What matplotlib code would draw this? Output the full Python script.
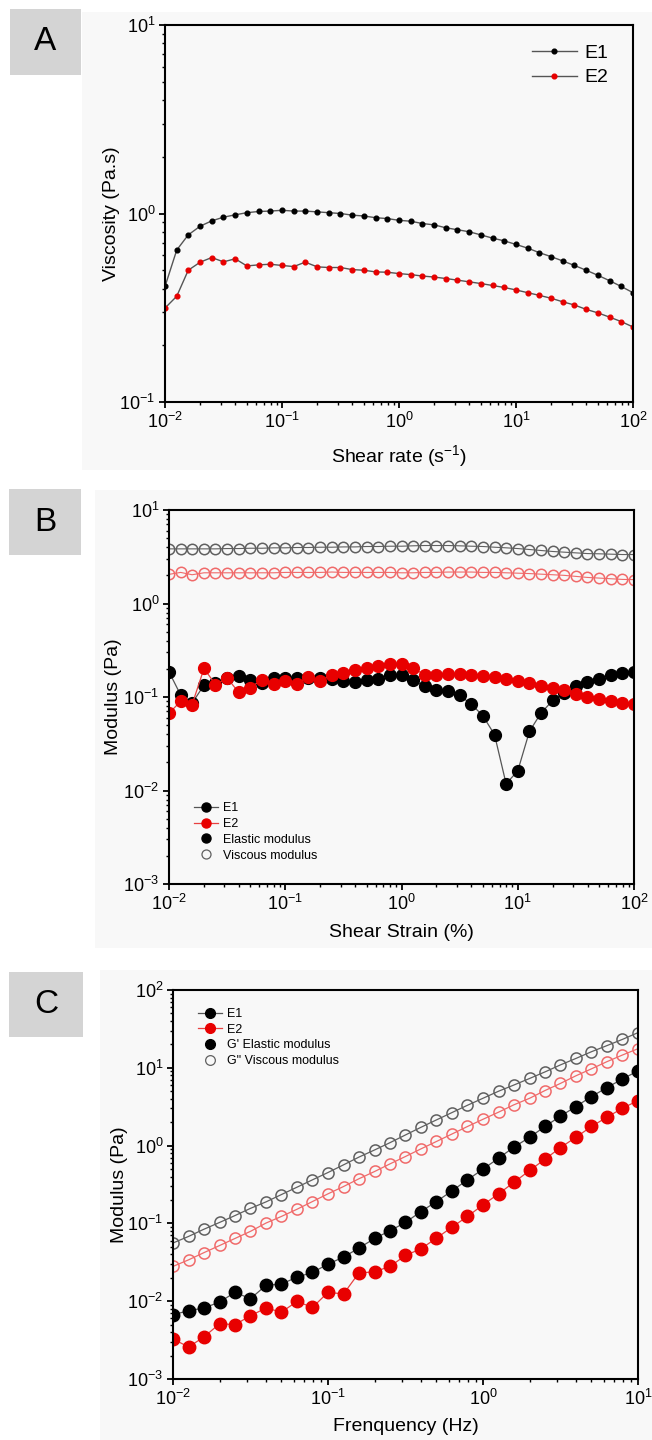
import matplotlib
matplotlib.use("Agg")
import matplotlib.pyplot as plt
from matplotlib.lines import Line2D
from matplotlib.patches import Rectangle
from matplotlib.ticker import LogLocator, NullFormatter

plt.rcParams["font.family"] = ["Liberation Sans", "DejaVu Sans"]
plt.rcParams["mathtext.fontset"] = "custom"
plt.rcParams["mathtext.rm"] = "Liberation Sans"
plt.rcParams["mathtext.it"] = "Liberation Sans:italic"
plt.rcParams["axes.unicode_minus"] = False

# ---- panel A: viscosity vs shear rate ----
shear_rate = [0.01, 0.0126, 0.0158, 0.02, 0.0251, 0.0316, 0.0398, 0.0501, 0.0631, 0.0794,
              0.1, 0.126, 0.158, 0.2, 0.251, 0.316, 0.398, 0.501, 0.631, 0.794,
              1.0, 1.26, 1.58, 2.0, 2.51, 3.16, 3.98, 5.01, 6.31, 7.94,
              10.0, 12.6, 15.8, 20.0, 25.1, 31.6, 39.8, 50.1, 63.1, 79.4, 100.0]
visc_e1 = [0.41, 0.64, 0.77, 0.857, 0.914, 0.956, 0.984, 1.01, 1.025, 1.03,
           1.04, 1.03, 1.03, 1.02, 1.01, 1.0, 0.98, 0.97, 0.95, 0.94,
           0.92, 0.91, 0.885, 0.87, 0.84, 0.82, 0.80, 0.77, 0.74, 0.716,
           0.685, 0.655, 0.62, 0.59, 0.56, 0.53, 0.50, 0.47, 0.44, 0.41, 0.38]
visc_e2 = [0.315, 0.364, 0.50, 0.552, 0.584, 0.554, 0.575, 0.527, 0.534, 0.538,
           0.53, 0.523, 0.552, 0.521, 0.517, 0.517, 0.504, 0.50, 0.49, 0.488,
           0.48, 0.474, 0.466, 0.46, 0.452, 0.443, 0.434, 0.425, 0.415, 0.405,
           0.393, 0.38, 0.368, 0.355, 0.34, 0.327, 0.31, 0.297, 0.282, 0.267, 0.25]

# ---- panel B: modulus vs shear strain ----
strain = [0.01, 0.0126, 0.0158, 0.02, 0.0251, 0.0316, 0.0398, 0.0501, 0.0631, 0.0794,
          0.1, 0.126, 0.158, 0.2, 0.251, 0.316, 0.398, 0.501, 0.631, 0.794,
          1.0, 1.26, 1.58, 2.0, 2.51, 3.16, 3.98, 5.01, 6.31, 7.94,
          10.0, 12.6, 15.8, 20.0, 25.1, 31.6, 39.8, 50.1, 63.1, 79.4, 100.0]
elastic_e1_b = [0.186, 0.105, 0.086, 0.134, 0.14, 0.16, 0.167, 0.153, 0.14, 0.16,
                0.16, 0.158, 0.158, 0.158, 0.155, 0.15, 0.145, 0.152, 0.155, 0.174,
                0.174, 0.152, 0.13, 0.12, 0.116, 0.104, 0.084, 0.063, 0.0396, 0.0118,
                0.0162, 0.0428, 0.067, 0.092, 0.11, 0.13, 0.145, 0.157, 0.17, 0.18, 0.184]
elastic_e2_b = [0.067, 0.09, 0.083, 0.202, 0.136, 0.16, 0.112, 0.126, 0.153, 0.139,
                0.147, 0.139, 0.164, 0.147, 0.174, 0.18, 0.193, 0.204, 0.215, 0.223,
                0.226, 0.202, 0.174, 0.174, 0.178, 0.177, 0.174, 0.168, 0.162, 0.156,
                0.147, 0.14, 0.13, 0.124, 0.118, 0.108, 0.1, 0.095, 0.09, 0.086, 0.0835]
viscous_e1_b = [3.84, 3.84, 3.84, 3.84, 3.84, 3.87, 3.87, 3.90, 3.90, 3.94,
                3.94, 3.97, 3.97, 4.00, 4.00, 4.03, 4.03, 4.07, 4.07, 4.10,
                4.10, 4.14, 4.17, 4.17, 4.17, 4.14, 4.10, 4.07, 4.00, 3.94,
                3.87, 3.78, 3.69, 3.60, 3.54, 3.48, 3.42, 3.40, 3.37, 3.34, 3.34]
viscous_e2_b = [2.05, 2.15, 2.03, 2.13, 2.13, 2.13, 2.13, 2.13, 2.13, 2.13,
                2.15, 2.15, 2.15, 2.15, 2.17, 2.15, 2.15, 2.15, 2.15, 2.15,
                2.13, 2.13, 2.15, 2.15, 2.17, 2.17, 2.17, 2.15, 2.15, 2.13,
                2.11, 2.09, 2.06, 2.03, 2.00, 1.95, 1.90, 1.87, 1.84, 1.81, 1.80]

# ---- panel C: modulus vs frequency ----
freq = [0.01, 0.0126, 0.0158, 0.02, 0.0251, 0.0316, 0.0398, 0.0501, 0.0631, 0.0794,
        0.1, 0.126, 0.158, 0.2, 0.251, 0.316, 0.398, 0.501, 0.631, 0.794,
        1.0, 1.26, 1.58, 2.0, 2.51, 3.16, 3.98, 5.01, 6.31, 7.94, 10.0]
elastic_e1_c = [0.0067, 0.00755, 0.00817, 0.00975, 0.013, 0.01076, 0.016, 0.0166, 0.0204, 0.0234,
                0.030, 0.0369, 0.0481, 0.0641, 0.0804, 0.103, 0.142, 0.191, 0.262, 0.363,
                0.498, 0.689, 0.953, 1.28, 1.76, 2.39, 3.18, 4.27, 5.57, 7.19, 9.12]
elastic_e2_c = [0.00327, 0.00258, 0.00346, 0.00514, 0.00499, 0.0065, 0.00817, 0.00724, 0.00993, 0.00832,
                0.0130, 0.0124, 0.0230, 0.0239, 0.0280, 0.0387, 0.0472, 0.0647, 0.0895, 0.123,
                0.173, 0.240, 0.336, 0.479, 0.668, 0.944, 1.28, 1.76, 2.32, 3.02, 3.79]
viscous_e1_c = [0.056, 0.068, 0.084, 0.103, 0.126, 0.156, 0.189, 0.235, 0.292, 0.363,
                0.451, 0.566, 0.71, 0.88, 1.09, 1.37, 1.72, 2.14, 2.66, 3.30,
                4.06, 5.0, 6.0, 7.3, 8.85, 10.9, 13.2, 16.1, 19.3, 23.2, 28.3]
viscous_e2_c = [0.028, 0.034, 0.042, 0.052, 0.064, 0.079, 0.101, 0.123, 0.152, 0.191,
                0.24, 0.298, 0.374, 0.465, 0.582, 0.724, 0.908, 1.13, 1.41, 1.76,
                2.18, 2.69, 3.34, 4.06, 5.1, 6.3, 7.9, 9.7, 12.0, 14.6, 17.6]

BLACK = "#000000"
RED = "#e80000"
GRAY_LINE = "#555555"
RED_LINE = "#e84040"
OPEN_GRAY = "#606060"
OPEN_RED = "#f06a6a"
PANEL_BG = "#f8f8f8"

W, H = 652, 1440
fig = plt.figure(figsize=(W / 100, H / 100), dpi=100)
fig.patch.set_facecolor("white")


def px_axes(left, top, right, bottom):
    return [left / W, 1 - bottom / H, (right - left) / W, (bottom - top) / H]


def style_axes(ax, xlim, ylim, xlabel, ylabel, xlab_y, ylab_x):
    ax.set_xscale("log")
    ax.set_yscale("log")
    ax.set_xlim(*xlim)
    ax.set_ylim(*ylim)
    ax.set_facecolor(PANEL_BG)
    for s in ax.spines.values():
        s.set_linewidth(1.5)
    ax.xaxis.set_major_locator(LogLocator(base=10, numticks=20))
    ax.yaxis.set_major_locator(LogLocator(base=10, numticks=20))
    ax.xaxis.set_minor_locator(LogLocator(base=10, subs=range(2, 10), numticks=20))
    ax.yaxis.set_minor_locator(LogLocator(base=10, subs=range(2, 10), numticks=20))
    ax.xaxis.set_minor_formatter(NullFormatter())
    ax.yaxis.set_minor_formatter(NullFormatter())
    ax.tick_params(which="major", direction="out", length=4, width=1.3,
                   labelsize=13, pad=3, top=False, right=False)
    ax.tick_params(which="minor", direction="out", length=2.2, width=1.0,
                   top=False, right=False)
    ax.set_xlabel(xlabel, fontsize=14)
    ax.set_ylabel(ylabel, fontsize=14)
    ax.xaxis.set_label_coords(0.5, xlab_y)
    ax.yaxis.set_label_coords(ylab_x, 0.5)


def panel_tag(letter, x0, y0, x1, y1, bg_left, bg_top, bg_bottom):
    fig.patches.append(Rectangle((bg_left / W, 1 - bg_bottom / H), (W - bg_left) / W,
                                 (bg_bottom - bg_top) / H, transform=fig.transFigure,
                                 facecolor=PANEL_BG, edgecolor="none", zorder=-10))
    fig.patches.append(Rectangle((x0 / W, 1 - y1 / H), (x1 - x0) / W, (y1 - y0) / H,
                                 transform=fig.transFigure, facecolor="#d4d4d4",
                                 edgecolor="none", zorder=-5))
    fig.text((x0 + x1) / 2 / W, 1 - (y0 + y1) / 2 / H, letter, fontsize=24,
             ha="center", va="center")


panel_tag("A", 10, 9, 81, 75, 82, 12, 470)
panel_tag("B", 9, 489, 81, 555, 95, 490, 948)
panel_tag("C", 9, 972, 83, 1037, 100, 970, 1440)

# ---- A ----
axA = fig.add_axes(px_axes(165, 25, 633, 402))
axA.plot(shear_rate, visc_e1, "-o", color=GRAY_LINE, lw=1.0, ms=3.4,
         mfc=BLACK, mec=BLACK, label="E1")
axA.plot(shear_rate, visc_e2, "-o", color=GRAY_LINE, lw=1.0, ms=3.4,
         mfc=RED, mec=RED, label="E2")
style_axes(axA, (1e-2, 1e2), (1e-1, 1e1), "Shear rate (s$^{-1}$)",
           "Viscosity (Pa.s)", -0.109, -0.096)
axA.legend(loc="upper right", bbox_to_anchor=(0.985, 0.995), frameon=False,
           fontsize=14, handlelength=2.3, handletextpad=0.4, labelspacing=0.35)

# ---- B ----
axB = fig.add_axes(px_axes(169, 510, 634, 884))
axB.plot(strain, viscous_e1_b, "-o", color=OPEN_GRAY, lw=0.8, ms=7.5,
         mfc="none", mec=OPEN_GRAY, mew=1.1)
axB.plot(strain, viscous_e2_b, "-o", color=OPEN_RED, lw=0.8, ms=7.5,
         mfc="none", mec=OPEN_RED, mew=1.1)
axB.plot(strain, elastic_e1_b, "-o", color=GRAY_LINE, lw=0.9, ms=8.5,
         mfc=BLACK, mec=BLACK)
axB.plot(strain, elastic_e2_b, "-o", color=RED_LINE, lw=0.9, ms=8.5,
         mfc=RED, mec=RED)
style_axes(axB, (1e-2, 1e2), (1e-3, 1e1), "Shear Strain (%)",
           "Modulus (Pa)", -0.107, -0.101)
handles_b = [
    Line2D([], [], color=GRAY_LINE, lw=0.9, marker="o", ms=6.5, mfc=BLACK, mec=BLACK),
    Line2D([], [], color=RED_LINE, lw=0.9, marker="o", ms=6.5, mfc=RED, mec=RED),
    Line2D([], [], ls="none", marker="o", ms=6.5, mfc=BLACK, mec=BLACK),
    Line2D([], [], ls="none", marker="o", ms=6.5, mfc="none", mec=OPEN_GRAY, mew=0.9),
]
axB.legend(handles_b, ["E1", "E2", "Elastic modulus", "Viscous modulus"],
           loc="upper left", bbox_to_anchor=(0.04, 0.235), frameon=False,
           fontsize=9, handlelength=1.9, handletextpad=0.4, labelspacing=0.3,
           borderpad=0)

# ---- C ----
axC = fig.add_axes(px_axes(173, 990, 638, 1379))
axC.plot(freq, viscous_e1_c, "-o", color=OPEN_GRAY, lw=0.9, ms=8,
         mfc="none", mec=OPEN_GRAY, mew=1.1)
axC.plot(freq, viscous_e2_c, "-o", color=OPEN_RED, lw=0.9, ms=8,
         mfc="none", mec=OPEN_RED, mew=1.1)
axC.plot(freq, elastic_e1_c, "-o", color=GRAY_LINE, lw=0.9, ms=9,
         mfc=BLACK, mec=BLACK)
axC.plot(freq, elastic_e2_c, "-o", color=RED_LINE, lw=0.9, ms=9,
         mfc=RED, mec=RED)
style_axes(axC, (1e-2, 1e1), (1e-3, 1e2), "Frenquency (Hz)",
           "Modulus (Pa)", -0.100, -0.097)
handles_c = [
    Line2D([], [], color=GRAY_LINE, lw=0.9, marker="o", ms=7, mfc=BLACK, mec=BLACK),
    Line2D([], [], color=RED_LINE, lw=0.9, marker="o", ms=7, mfc=RED, mec=RED),
    Line2D([], [], ls="none", marker="o", ms=7, mfc=BLACK, mec=BLACK),
    Line2D([], [], ls="none", marker="o", ms=7, mfc="none", mec=OPEN_GRAY, mew=0.9),
]
axC.legend(handles_c, ["E1", "E2", "G' Elastic modulus", "G\" Viscous modulus"],
           loc="upper left", bbox_to_anchor=(0.04, 0.97), frameon=False,
           fontsize=9, handlelength=1.9, handletextpad=0.4, labelspacing=0.3,
           borderpad=0)

fig.savefig("out.png", dpi=100, facecolor=fig.get_facecolor())
